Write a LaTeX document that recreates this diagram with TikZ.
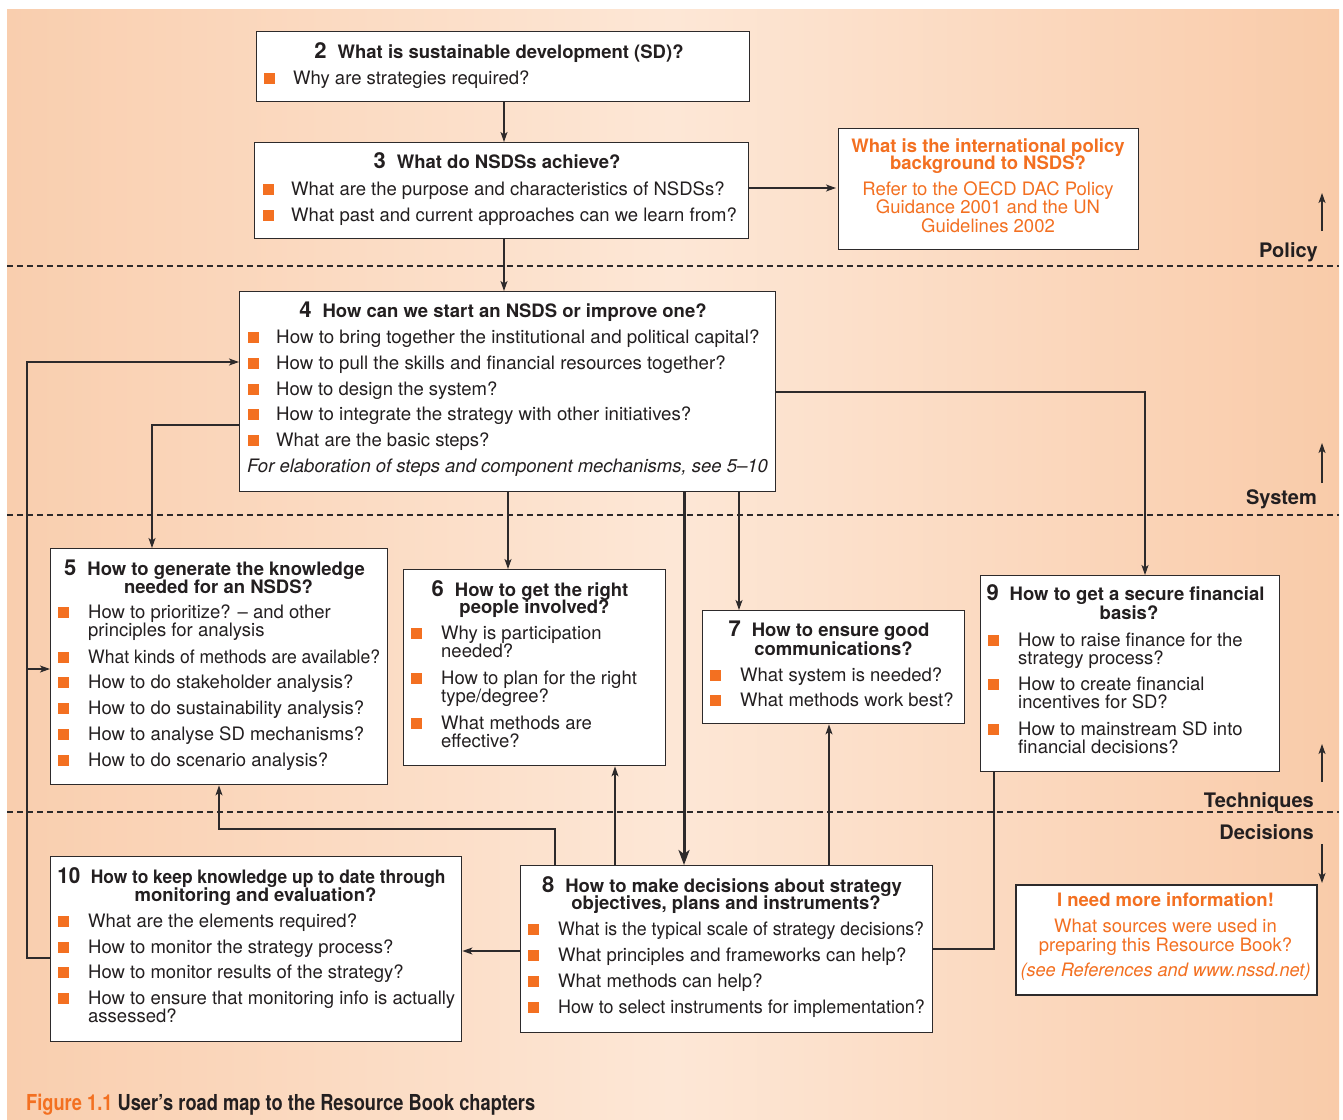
\documentclass[tikz,border=0pt]{standalone}
\usepackage{fontspec}
\usepackage{graphicx}
\setmainfont{TeX Gyre Heros}
\usetikzlibrary{arrows.meta}
\definecolor{txtc}{RGB}{35,31,32}
\definecolor{linec}{RGB}{45,42,43}
\definecolor{orng}{RGB}{243,112,33}
\definecolor{peachL}{RGB}{249,206,174}
\definecolor{peachM}{RGB}{253,231,214}
\definecolor{peachR}{RGB}{249,203,169}
\newcommand\bodyf{\fontsize{18.5}{19}\selectfont}
\newcommand\ttlf{\fontsize{18.5}{19}\selectfont\bfseries}
\newcommand\numf{\fontsize{22}{22}\selectfont\bfseries}
\newcommand\sx[2]{\scalebox{#1}[1]{#2}}
\newcommand\qi[5]{%
  \fill[orng] (#2,#4-11) rectangle ++(11,11);
  \node[txt] (#1) at (#3,#4) {#5};}
\newcommand\qii[6]{%
  \fill[orng] (#2,#4-11) rectangle ++(11,11);
  \node[txt] (#1) at (#3,#4) {#5};
  \node[txt] (#1b) at (#3,#4+18.5) {#6};}
\tikzset{
  box/.style={draw=linec, line width=1.4pt, fill=white, anchor=north west, inner sep=0pt},
  txt/.style={anchor=base west, inner sep=0pt, text=txtc, font=\bodyf},
  ttl/.style={anchor=base, inner sep=0pt, text=txtc, font=\ttlf},
  otxt/.style={anchor=base, inner sep=0pt, text=orng, font=\bodyf},
  side/.style={anchor=base east, inner sep=0pt, text=txtc, font=\fontsize{20}{20}\selectfont\bfseries},
  arr/.style={draw=linec, line width=1.2pt, -{Stealth[length=10pt,width=7pt,inset=2.5pt]}},
  plain/.style={draw=linec, line width=1.2pt},
  thick arr/.style={draw=linec, line width=3pt, -{Stealth[length=15pt,width=11pt,inset=4pt]}},
  layer/.style={draw=linec, line width=1.1pt, dash pattern=on 6pt off 4pt},
}
\begin{document}
\begin{tikzpicture}[x=1pt,y=-1pt]
\useasboundingbox (0,0) rectangle (1343,1119);
\fill[white] (0,0) rectangle (1343,1119);
\shade[left color=peachL, right color=peachR, middle color=peachM] (7,9) rectangle (1339,1119);

% layer separators
\draw[layer] (7,266) -- (1339,266);
\draw[layer] (7,515) -- (1339,515);
\draw[layer] (7,812) -- (1339,812);

% side labels and arrows
\node[side] (lpol) at (1318,257) {Policy};
\node[side] (lsys) at (1317,504) {System};
\node[side] (ltec) at (1314,807) {Techniques};
\node[side] (ldec) at (1314,839) {Decisions};
\coordinate (apa) at (1322,231); \coordinate (apb) at (1322,193);
\coordinate (asa) at (1322,483); \coordinate (asb) at (1322,443);
\coordinate (ata) at (1322,782); \coordinate (atb) at (1322,744);
\coordinate (ada) at (1322,844); \coordinate (adb) at (1322,883);
\draw[arr] (apa) -- (apb);
\draw[arr] (asa) -- (asb);
\draw[arr] (ata) -- (atb);
\draw[arr] (ada) -- (adb);

% boxes
\node[box, minimum width=493, minimum height=70] (b2) at (256,31) {};
\node[box, minimum width=494, minimum height=96] (b3) at (254,142) {};
\node[box, minimum width=300, minimum height=121] (pol) at (838,128) {};
\node[box, minimum width=536, minimum height=200] (b4) at (239,291) {};
\node[box, minimum width=337, minimum height=236] (b5) at (50,548) {};
\node[box, minimum width=262, minimum height=196] (b6) at (403,569) {};
\node[box, minimum width=262, minimum height=113] (b7) at (702,610) {};
\node[box, minimum width=299, minimum height=196] (b9) at (980,575) {};
\node[box, minimum width=412, minimum height=167] (b8) at (520,865) {};
\node[box, minimum width=411, minimum height=185] (b10) at (50,856) {};
\node[box, minimum width=301, minimum height=110, line width=1.8pt] (info) at (1015,884) {};

% connectors
\draw[arr] (504,0 |- b2.south) -- (504,0 |- b3.north);
\draw[arr] (b3.east |- 0,188) -- ([xshift=-2pt]pol.west |- 0,188);
\draw[arr] (504,0 |- b3.south) -- (504,0 |- b4.north);
\draw[arr] (b4.east |- 0,392) -- (1145,392) -- (1145,0 |- b9.north);
\draw[arr] (b4.west |- 0,425) -- (152,425) -- (152,0 |- b5.north);
\draw[arr] (508,0 |- b4.south) -- (508,0 |- b6.north);
\draw[arr] (739,0 |- b4.south) -- (739,0 |- b7.north);
\draw[thick arr] (684,0 |- b4.south) -- (684,0 |- b8.north);
\draw[arr] (615,0 |- b8.north) -- (615,0 |- b6.south);
\draw[arr] (829,0 |- b8.north) -- (829,0 |- b7.south);
\draw[arr] (555,0 |- b8.north) -- (555,829) -- (219,829) -- (219,0 |- b5.south);
\draw[arr] (b8.west |- 0,951) -- (b10.east |- 0,951);
\draw[plain] (994,0 |- b9.south) -- (994,949) -- (b8.east |- 0,949);
\coordinate (lp1) at (27,958);
\coordinate (lp2) at (27,362);
\coordinate (lp3) at (27,669);
\draw[arr] (b10.west |- lp1) -- (lp1) -- (lp2) -- (b4.west |- lp2);
\draw[arr] (lp3) -- (b5.west |- lp3);

% box 2
\node[ttl] (t2) at (499,58) {{\numf 2}\hspace{11pt}What is sustainable development (SD)?};
\qi{q21}{264}{293}{84}{Why are strategies required?}

% box 3
\node[ttl] (t3) at (497,168) {{\numf 3}\hspace{11pt}What do NSDSs achieve?};
\qi{q31}{263}{291}{195}{What are the purpose and characteristics of NSDSs?}
\qi{q32}{263}{291}{221}{What past and current approaches can we learn from?}

% policy box
\node[otxt, font=\ttlf] (p1) at (988,152) {What is the international policy};
\node[otxt, font=\ttlf] (p2) at (988,169) {background to NSDS?};
\node[otxt] (p3) at (988,195) {Refer to the OECD DAC Policy};
\node[otxt] (p4) at (988,213) {Guidance 2001 and the UN};
\node[otxt] (p5) at (988,232) {Guidelines 2002};

% box 4
\node[ttl] (t4) at (503,317) {{\numf 4}\hspace{11pt}How can we start an NSDS or improve one?};
\qi{q41}{248}{276}{343}{\sx{1.015}{How to bring together the institutional and political capital?}}
\qi{q42}{248}{276}{369}{\sx{1.01}{How to pull the skills and financial resources together?}}
\qi{q43}{248}{276}{395}{How to design the system?}
\qi{q44}{248}{276}{420}{\sx{1.01}{How to integrate the strategy with other initiatives?}}
\qi{q45}{248}{276}{446}{What are the basic steps?}
\node[txt] (q46) at (247,472) {\itshape For elaboration of steps and component mechanisms, see 5–10};

% box 5
\node[ttl] (t5a) at (214.5,575) {{\numf 5}\hspace{11pt}How to generate the knowledge};
\node[ttl] (t5b) at (218.5,593) {needed for an NSDS?};
\qii{q51}{58}{88}{618}{How to prioritize? – and other}{principles for analysis}
\qi{q52}{58}{88}{663}{\sx{0.95}{What kinds of methods are available?}}
\qi{q53}{58}{88}{688}{How to do stakeholder analysis?}
\qi{q54}{58}{88}{714}{How to do sustainability analysis?}
\qi{q55}{58}{88}{740}{How to analyse SD mechanisms?}
\qi{q56}{58}{88}{766}{How to do scenario analysis?}

% box 6
\node[ttl] (t6a) at (530,596) {{\numf 6}\hspace{11pt}How to get the right};
\node[ttl] (t6b) at (534.5,613) {people involved?};
\qii{q61}{411}{441}{639}{Why is participation}{needed?}
\qii{q62}{411}{441}{684}{How to plan for the right}{type/degree?}
\qii{q63}{411}{441}{729}{What methods are}{effective?}

% box 7
\node[ttl] (t7a) at (829,636) {{\numf 7}\hspace{11pt}How to ensure good};
\node[ttl] (t7b) at (833.5,655) {communications?};
\qi{q71}{710}{740}{681}{What system is needed?}
\qi{q72}{710}{740}{706}{What methods work best?}

% box 9
\node[ttl] (t9a) at (1125.5,600) {{\numf 9}\hspace{11pt}How to get a secure financial};
\node[ttl] (t9b) at (1129,619) {basis?};
\qii{q91}{988}{1018}{646}{How to raise finance for the}{strategy process?}
\qii{q92}{988}{1018}{690}{How to create financial}{incentives for SD?}
\qii{q93}{988}{1018}{735}{How to mainstream SD into}{financial decisions?}

% box 8
\node[ttl] (t8a) at (722,892) {{\numf 8}\hspace{11pt}How to make decisions about strategy};
\node[ttl] (t8b) at (726,909) {objectives, plans and instruments?};
\qi{q81}{528}{558}{935}{\sx{0.958}{What is the typical scale of strategy decisions?}}
\qi{q82}{528}{558}{961}{What principles and frameworks can help?}
\qi{q83}{528}{558}{987}{What methods can help?}
\qi{q84}{528}{558}{1013}{\sx{0.968}{How to select instruments for implementation?}}

% box 10
\node[ttl] (t10a) at (251.5,883) {\sx{0.94}{{\numf 10}\hspace{11pt}How to keep knowledge up to date through}};
\node[ttl] (t10b) at (255.5,901) {monitoring and evaluation?};
\qi{q101}{58}{88}{927}{What are the elements required?}
\qi{q102}{58}{88}{953}{How to monitor the strategy process?}
\qi{q103}{58}{88}{978}{How to monitor results of the strategy?}
\qii{q104}{58}{88}{1004}{How to ensure that monitoring info is actually}{assessed?}

% info box
\node[otxt, font=\ttlf] (i1) at (1165.5,906) {I need more information!};
\node[otxt] (i2) at (1165.5,932) {What sources were used in};
\node[otxt] (i3) at (1165.5,951) {preparing this Resource Book?};
\node[otxt] (i4) at (1165.5,976) {\sx{0.98}{\itshape (see References and www.nssd.net)}};

% caption
\node[anchor=base west, inner sep=0pt] (cap) at (26,1110) {\sx{0.83}{\fontsize{22}{22}\selectfont\bfseries\color{orng}Figure 1.1 \color{txtc}User’s road map to the Resource Book chapters}};
\end{tikzpicture}
\end{document}
